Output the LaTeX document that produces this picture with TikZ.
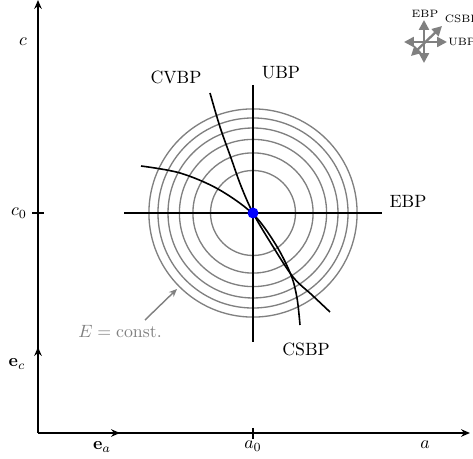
\documentclass[tikz,border=0pt]{standalone}
\usetikzlibrary{arrows.meta}
\begin{document}
\begin{tikzpicture}[x=0.5618pt,y=-0.5618pt,
  axis/.style={line width=1pt,-{Stealth[length=5pt,width=4.2pt]}},
  basisvec/.style={line width=1.4pt,-{Stealth[length=5pt,width=4.2pt]}},
  tick/.style={line width=1.3pt},
  contour/.style={draw=gray,line width=0.75pt},
  path/.style={line width=0.9pt},
  legarrow/.style={draw=gray,line width=1.3pt,{Triangle[length=5.5pt,width=5.5pt]}-{Triangle[length=5.5pt,width=5.5pt]}},
  lbl/.style={inner sep=1pt}]
\useasboundingbox (0,0) rectangle (473,459);
% coordinates
\coordinate (O) at (38,433);
\coordinate (Ctop) at (38,0);
\coordinate (Aend) at (470,433);
\coordinate (P) at (253,213);
% axes
\draw[axis] (O) -- (Aend);
\draw[axis] (O) -- (Ctop);
\draw[basisvec] (O) -- (120,433) coordinate (ea);
\draw[basisvec] (O) -- (38,347) coordinate (ec);
% ticks
\draw[tick] (253,428) coordinate (ta1) -- (253,439) coordinate (ta2);
\draw[tick] (32,213) coordinate (tc1) -- (44,213) coordinate (tc2);
\node[lbl] (la0) at (253,446) {$a_0$};
\node[lbl] (la) at (425,445) {$a$};
\node[lbl] (lc0) at (19,213) {$c_0$};
\node[lbl] (lc) at (23,42) {$c$};
\node[lbl] (lea) at (102,447) {$\mathbf{e}_a$};
\node[lbl] (lec) at (17,364) {$\mathbf{e}_c$};
% contours
\foreach \k in {1,...,6}{
  \draw[contour] (P) circle ({42.5*sqrt(\k)});
}
% EBP and UBP lines
\coordinate (ebpL) at (124,213);
\coordinate (ebpR) at (382,213);
\coordinate (ubpT) at (253,85);
\coordinate (ubpB) at (253,342);
\draw[path] (ebpL) -- (ebpR);
\draw[path] (ubpT) -- (ubpB);
% CSBP curve
\draw[path] plot[smooth,tension=0.55] coordinates {(141,166) (180,173) (218,189) (253,214) (276,245) (291,275) (297,298) (300,325)};
% CVBP curve
\draw[path] plot[smooth,tension=0.55] coordinates {(210,93) (220,127) (231,158) (241,186) (253,213) (272,245) (293,277) (312,295) (330,312)};
% labels
\node[lbl] (lcvbp) at (176,77) {CVBP};
\node[lbl] (lubp) at (281,73) {UBP};
\node[lbl] (lebp) at (408,201) {EBP};
\node[lbl] (lcsbp) at (306,349) {CSBP};
% E = const
\node[lbl,text=gray] (lE) at (120,331) {$E=\mathrm{const.}$};
\coordinate (Etip) at (177,289);
\draw[draw=gray,line width=0.8pt,-{Stealth[length=4.5pt,width=3.8pt]}] (145,320) -- (Etip);
% center dot
\fill[blue] (P) circle (5.5);
% legend
\coordinate (L) at (424,42);
\draw[legarrow] (404,42) -- (447,42);
\draw[legarrow] (424,20) -- (424,63);
\draw[legarrow] (411,56) -- (442,26);
\node[lbl,font=\fontsize{6}{7}\selectfont] (legE) at (425,14) {EBP};
\node[lbl,font=\fontsize{6}{7}\selectfont] (legC) at (462,19) {CSBP};
\node[lbl,font=\fontsize{6}{7}\selectfont] (legU) at (462,42) {UBP};
\end{tikzpicture}
\end{document}
